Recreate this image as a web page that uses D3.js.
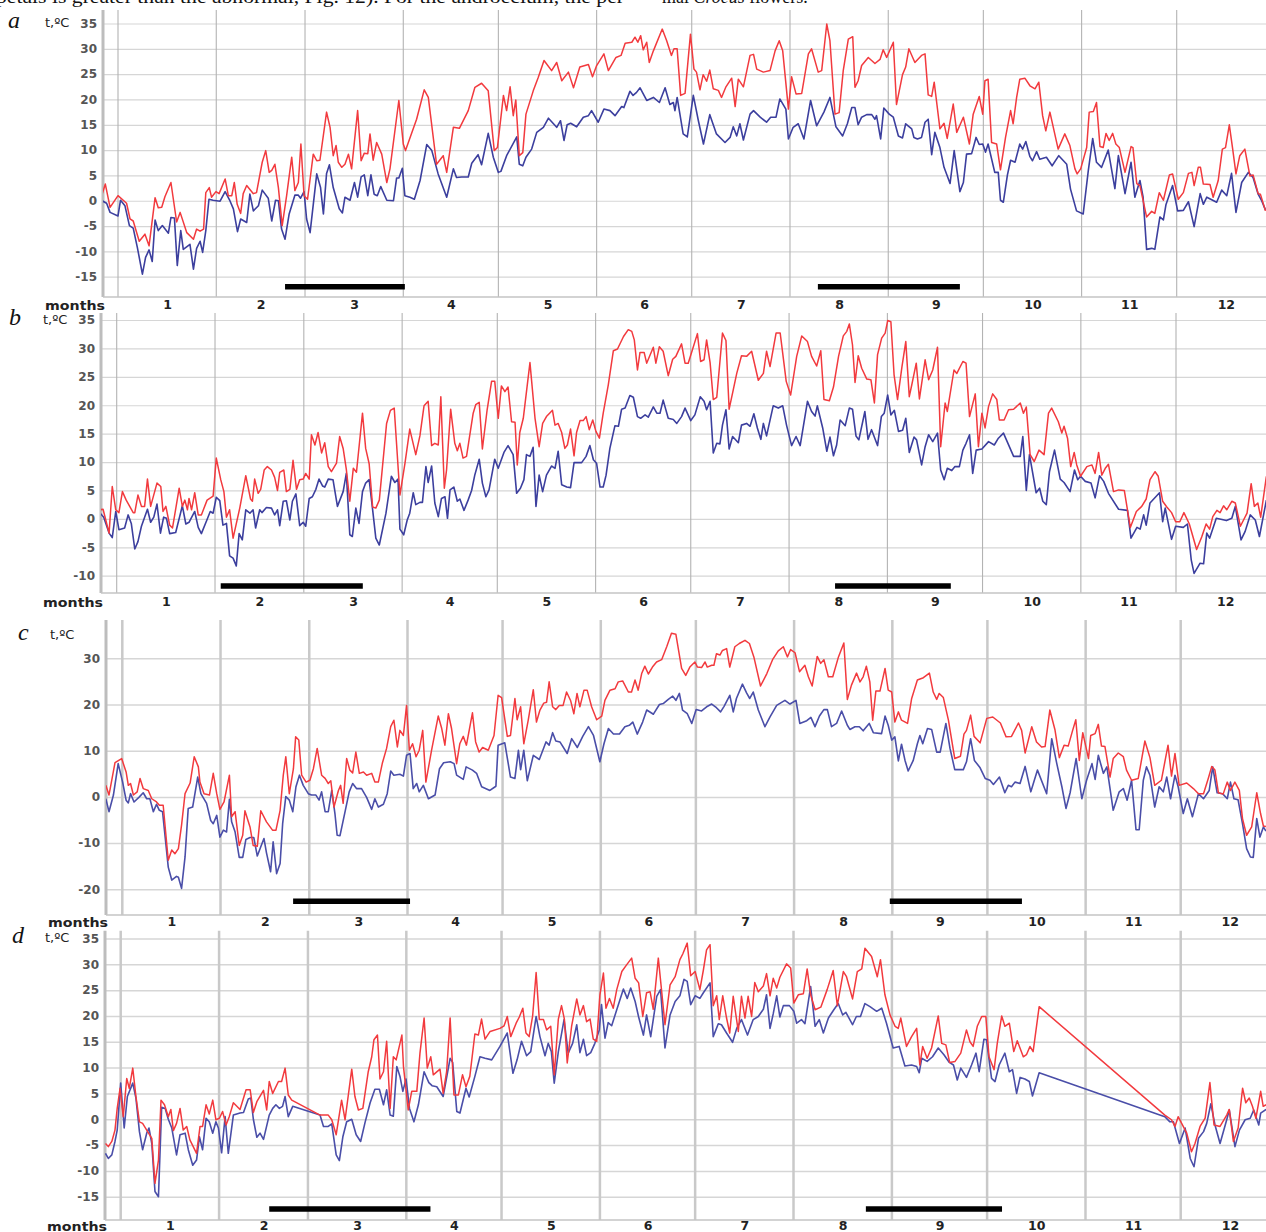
<!DOCTYPE html>
<html>
<head>
<meta charset="utf-8">
<script src="https://cdn.jsdelivr.net/npm/d3@7"></script>
<style>
  body { margin: 0; background: #fff; }
  svg { display: block; }
</style>
</head>
<body>
<svg id="chart" width="1266" height="1232"></svg>
<script>
// months and their first day (day 0 = 1 January)
const months = ['1', '2', '3', '4', '5', '6', '7', '8', '9', '10', '11', '12'];
const monthStarts = [0, 31, 59, 90, 120, 151, 181, 212, 243, 273, 304, 334, 365];

const aTicks = [-15, -10, -5, 0, 5, 10, 15, 20, 25, 30, 35];
const bTicks = [-10, -5, 0, 5, 10, 15, 20, 25, 30, 35];
const cTicks = [-20, -10, 0, 10, 20, 30];
const dTicks = [-15, -10, -5, 0, 5, 10, 15, 20, 25, 30, 35];

// black bars: [first day, last day]
const aBars = [[52.7, 90.5], [220.8, 265.6]];
const bBars = [[32.8, 77.6], [226.5, 263]];
const cBars = [[53.9, 90.8], [242.2, 283.9]];
const dBars = [[46.8, 97.6], [234.8, 277.7]];

// [day, t °C]; Max = red, Min = blue
const aMax = [[-5,1.3],[-4,3.3],[-2.5,-1.3],[0,1],[2.7,-0.5],[3.8,-3.6],[4.8,-4],[6.7,-8],[8.5,-6.6],[9.8,-8.9],[11.7,0.6],[12.7,-1.4],[13.8,-1.3],[14.8,0.8],[16.7,3.6],[18.5,-4.2],[19.6,-2.3],[21.7,-6.3],[23.8,-7.6],[24.8,-5.6],[25.9,-6],[27,-5.6],[27.7,1.6],[28.8,2.6],[29.5,0.7],[30.9,1.8],[31.9,1.4],[33.8,4.3],[34.8,1],[35.9,1],[36.7,3.6],[37.6,-0.7],[38.7,-2.5],[39.5,1.4],[40.6,3],[42.7,1.4],[43.7,1.6],[45.5,7.6],[46.6,9.9],[47.7,5.6],[48.5,6],[49.5,7.2],[50.6,2.6],[51.8,-4.9],[53.2,1],[54.8,8.6],[55.8,2],[56.9,3.6],[57.7,11.2],[58.7,1],[59.8,0.3],[61.6,9.2],[62.7,7.9],[63.7,8],[65.8,17.5],[66.9,14.5],[67.9,8.9],[68.8,10.9],[69.5,7.6],[70.6,6.6],[71.6,7.2],[72.7,9.2],[73.7,6.3],[75.6,17.8],[76.7,7.9],[77.7,9.4],[78.8,9.3],[79.5,13.2],[80.5,8],[81.6,11.5],[83.2,9.2],[84.8,3.6],[85.8,6.3],[88.6,19.8],[90,11.2],[90.7,9.9],
  [94.2,16.1],[96.6,21.9],[97.9,20.4],[100.5,7.2],[102.6,8.9],[103.7,5.6],[105.8,14.5],[107.7,14.3],[110.5,17.8],[112.6,22.4],[114.7,23.2],[116.8,21.7],[118.7,9.9],[119.7,10.5],[121.6,20.8],[122.6,17.8],[123.7,22.5],[124.7,16.8],[125.5,19.9],[126.6,8.9],[127.7,9.5],[128.7,17.1],[131,21.7],[132.6,24.4],[134.4,27.7],[136.8,25.7],[138.4,27.3],[140,23.7],[142.1,25.4],[143.7,22.3],[145.7,26.4],[148.4,26.9],[149.7,24.5],[151,26.7],[153.3,29],[154.7,25.7],[157.1,28.3],[158.7,28.7],[160,31.1],[162.1,31.3],[163.1,32.3],[164,31.3],[164.9,32.6],[165.7,29.8],[166.8,31.3],[167.6,27.3],[168.9,29.6],[171.7,33.9],[173.1,31.6],[174.6,28.7],[175.4,30],[176.4,30],[177.5,20.8],[178.9,21.2],[180.6,32.9],[181.7,26],[182.5,25.4],[183.6,21.9],[184.6,24.9],[185.7,23.6],[186.7,25.8],[187.8,22.1],[189.4,21.8],[190.4,20.4],[191.8,22.5],[193.6,24.2],[194.7,18.6],[195.7,24],[197.3,22.5],[199.4,28.7],[200.5,28.9],[201.5,26],[203.6,25.4],[205.7,25.7],[207.3,29.6],[208.6,31.6],[209.7,29.6],[211.5,18.1],[212.5,24.5],[213.9,21.1],[215.7,21.2],[217.8,29],[218.8,30],[220.9,25.4],[222,25.7],[223.6,34.9],[224.6,31.6],[226.2,17.1],[227.5,17.4],
  [228.8,25.7],[230.4,31.9],[231.8,32.4],[232.5,22.4],[233.5,23.7],[234.6,26.7],[236.7,28.3],[238.8,27.1],[240.4,27.9],[241.4,29.8],[242.5,28.3],[244.6,31.3],[245.6,19],[247.5,24.9],[248.5,26.4],[249.5,30],[251.4,27.3],[253.5,28.7],[254.6,29],[255.6,20.9],[256.7,20.6],[257.5,23.4],[259.3,14.2],[260.6,15.3],[261.6,12.3],[263.5,19.1],[264.6,13.5],[266.7,16.5],[268.6,11.2],[269.8,17.1],[271.7,20.6],[272.8,17.1],[273.5,23.7],[274.5,24],[275.6,11.5],[277.2,11.2],[278.4,6.1],[280,12.5],[281.6,17.8],[282.4,15.2],[283.5,20.4],[284.5,24],[286.1,24.2],[287.7,22.7],[289.3,22.1],[290.5,23.4],[291.7,16.8],[292.7,13.8],[294,17.5],[296.6,10.2],[298.7,13.2],[300.3,10.9],[301.9,6.3],[302.6,5.3],[303.7,6.3],[305.6,10.5],[306.4,17.5],[307.7,17.6],[308.7,19.4],[309.8,10.7],[310.8,10.5],[311.7,13.3],[312.7,11.9],[313.8,13.3],[314.8,11.2],[315.9,10.5],[317.7,5.6],[319.6,10.7],[320.2,10.5],[321.4,3.4],[322.4,3],[324.5,-3.2],[326.1,-2.1],[327.1,-2.5],[328.5,1.6],[329.8,0.1],[331.7,5.1],[332.7,5.3],[334.5,0.3],[336.1,1.6],[337.7,5.4],[338.8,5.6],[339.5,3],[340.8,6.6],[341.5,6.6],[342.4,3.3],[344.5,3.2],[345.5,0.7],[347.1,4],[348.4,10.2],[349.4,10.5],[350.6,15],[351.6,10.5],[352.7,5.3],[353.9,8.9],[355.5,10.2],[357.1,4.9],[358.1,5.1],[359.7,1.4],[360.4,1.3],[362,-2]];

const aMin = [[-5,0],[-3.6,-0.5],[-2.5,-2.3],[0,-3],[0.8,0.1],[2.2,-1],[3.6,-4.9],[4.8,-5.4],[6.1,-9.2],[7.7,-14.5],[8.7,-11.2],[9.8,-9.7],[10.8,-12],[11.7,-3.8],[12.7,-5.9],[14,-4.9],[15.9,-6.4],[16.7,-3.3],[17.8,-3.4],[18.7,-12.8],[19.8,-5.9],[20.6,-9.6],[22.7,-8.6],[23.8,-13.5],[24.8,-9.4],[25.9,-8],[26.7,-10.2],[27.7,-5.9],[28.7,0.3],[30,0.1],[32.2,-0.1],[33.8,1.8],[35.3,0],[36.4,-1.6],[37.7,-6.1],[38.7,-3.6],[40.6,-4.3],[41.6,1.3],[42.7,-2],[44.3,-1],[45.5,2.1],[47.4,0.5],[48.5,-4],[49.7,0.1],[50.6,0],[51.6,-5.6],[52.7,-7.6],[54,-2.6],[55.8,1.1],[56.9,1.1],[57.6,0.5],[58.7,1.8],[59.5,-3.6],[60.6,-6.3],[62.7,5.3],[63.9,2.6],[64.8,-2.6],[65.8,5.4],[66.7,7.1],[67.9,2.6],[69.8,-1.6],[70.8,-2.4],[71.6,0.7],[73.2,0.1],[74.6,3.6],[75.6,0.7],[76.7,4.7],[77.7,5.1],[78.8,1],[79.8,5.1],[80.8,1.3],[81.8,1],[82.9,2.8],[84.8,0.1],[86.9,0],[87.9,4.5],[88.6,4.5],[89.7,6.4],[90.5,1],[92.1,0.7],[93.5,0.3],
  [95.3,4],[97.4,11.1],[99,9.9],[101,5.3],[103.7,0.7],[105.8,6.3],[106.8,4.6],[108.4,4.7],[110.5,4.7],[111.6,7.4],[113.6,9.1],[114.7,7.1],[116.8,13.3],[118.4,8.6],[120,5.6],[120.8,5.8],[122.6,8.9],[125.8,12.6],[126.6,7.2],[127.7,6.9],[128.7,8.6],[130.5,10.2],[132.1,13.5],[134.2,14.5],[135.8,16.3],[138.4,14.5],[139.6,15.8],[140.7,11.9],[141.7,15],[142.8,15.3],[144.7,14.6],[146.8,16.5],[148.4,16.8],[149.4,17.8],[151.5,15.5],[153.3,18.1],[155.2,17.8],[156.8,16.8],[158.9,18.6],[159.6,18.4],[161.5,21.6],[162.5,20.8],[163.6,21.4],[164.7,22.3],[166.8,19.8],[168.9,20.4],[170.8,19.4],[172.6,22.3],[174.1,19],[175.2,19.4],[175.7,17.8],[176.4,20.4],[178.3,13.2],[179.6,12.6],[181.5,20.8],[183.1,15.8],[184.7,11.2],[186.7,17],[188.8,13.2],[191.5,11.5],[193.1,12.5],[194.1,14.6],[195.2,12.8],[196.2,15.2],[197.3,12],[199.4,17.1],[200.5,17.8],[202.6,16.5],[204.6,15.5],[205.9,16.5],[207.6,16.5],[208.8,20.1],[210.7,18.1],[211.5,12.2],[213,14.5],[214.6,15.2],[216.4,12.2],[218.5,19.8],[220.4,14.8],[222.7,17.5],[224.6,20.4],[226.5,14.6],
  [228.6,12.8],[230.1,15.2],[231.5,18.4],[232.5,18.4],[233.5,15],[234.6,16.5],[236.2,17],[237.8,17],[238.8,16.1],[239.3,16.8],[240.6,12.2],[241.6,18.3],[243.3,17.1],[244.6,16.5],[246.2,12.8],[247.5,12.4],[248.5,15.2],[250.4,14.2],[251.1,12.5],[252.2,12.2],[253.5,12.5],[254.6,15.5],[255.6,16.1],[256.7,9.1],[257.7,13.5],[259.3,10.5],[260.6,6.6],[262.5,3.4],[263.8,9.9],[265.6,1.8],[266.7,3.6],[267.7,9.2],[269.3,9.3],[270.7,12.5],[271.7,11.1],[272.8,11.2],[273.7,9.6],[274.5,11.2],[276.6,5.6],[277.7,5.6],[278.4,0.1],[279.3,-0.3],[280.6,5.1],[281.6,8],[283,7.6],[284.5,11.2],[285.4,10.2],[286.4,11.7],[287.7,8.7],[288.5,7.9],[289.8,9.7],[290.8,8.2],[292.9,8.6],[294.7,6.9],[296.8,8.9],[299.3,7.2],[300.5,2.3],[302.4,-2],[304.5,-2.6],[306.1,5.9],[307.5,12.3],[308.7,7.6],[310.3,6.6],[312.4,10],[314.5,2.4],[315.6,8.9],[317.7,1.4],[319.6,7.6],[320.8,0.7],[322.4,4],[323.4,0.7],[324.5,-9.6],[326.1,-9.4],[327.1,-9.6],[328.7,-3.2],[329.8,-3.8],[330.6,-0.8],[332.7,3],[334.3,-2],[336.1,-1.9],[337.7,-0.2],[339.5,-5.1],[341.4,1.4],[342.4,-0.7],[343.5,0.7],[346.6,-0.3],[348.2,2.1],[349.8,1],[351.3,5.4],[352.7,-2.3],[354.5,3.6],[356.6,5.6],[358.1,4.6],[359.7,1.3],[360.8,0],[362,-1.8]];

const bMax = [[-5.2,1.6],[-4.3,1.7],[-2.4,-2.5],[-1.4,5.7],[-0.3,1.6],[0.7,1.1],[1.8,4.8],[3,3.3],[5.2,1.1],[5.7,1.1],[6.7,4.2],[7.8,2.2],[8.8,2.2],[9.7,7],[10.7,2.2],[12.7,6.3],[13.9,5.7],[14.6,1.3],[15.5,2.2],[16.7,-1.1],[17.6,-1.6],[19.7,5.4],[20.7,2.2],[21.5,3.3],[22.3,1.6],[22.8,3.6],[23.6,1.6],[24.6,4.6],[25.7,0.7],[26.7,0.7],[28.5,3.3],[30.4,4],[31.4,10.7],[32.8,6.9],[33.8,4.8],[34.6,0.3],[35.6,1.6],[36.7,-3.4],[38.8,1.9],[40.7,7.6],[42.2,3.5],[42.8,3.1],[43.5,7],[44.6,4.5],[45.4,5.2],[46.5,8.6],[47.5,9.2],[48.8,8.6],[49.8,7.3],[50.7,5],[51.4,8.2],[52.7,8.6],[53.5,4.8],[54.6,5.2],[55.6,10.3],[56.7,5.2],[57.7,6.9],[58.8,7],[59.6,8],[60.7,7],[61.4,14.8],[62.5,13],[63.5,15.2],[64.6,11.6],[65.6,13.4],[66.7,9.2],[67.7,8.3],[69.3,9.8],[70.3,14.5],[71.4,12.4],[72.4,8.7],[73.5,3.1],[74.6,8.9],[75.6,8.2],[77.5,18.6],[78.5,12.4],[79.6,9.7],[80.7,2.1],[81.7,1.9],[82.8,3.3],[85.1,16.8],[86.3,19.1],[87.5,19.5],[89.3,4.2],
  [90.9,9.8],[92.4,15.8],[94.3,11.3],[95.6,14.6],[96.9,19.9],[98.2,20.7],[99.3,12.9],[100.3,13.3],[101.4,13],[102.2,21.5],[103.3,5.4],[104,8.6],[105.3,19.3],[106.6,13.3],[107.4,12],[108.2,13.3],[109.2,10.7],[110.3,11],[112.4,18.6],[113.2,20.1],[114.3,20.5],[115.3,12.3],[116.8,19.2],[118.2,24.2],[119.2,24.2],[120.3,17.7],[121.3,23.4],[122.4,22.4],[123.4,23.2],[124.5,17.1],[125.6,17],[126.3,9.5],[127.1,15.2],[128.2,17.7],[130.3,27.5],[131.9,17.7],[133.2,12.7],[134.3,16.8],[135.5,18],[137.4,19.1],[138.2,16.5],[139.2,16.8],[140.3,15.2],[141.3,12.4],[142.1,13],[143.1,15.8],[144.2,11.1],[145,15.2],[146.1,17.3],[147.1,17.3],[148,18],[149,15.7],[150.1,17.4],[151.1,15.4],[152.2,14.2],[153.4,18.6],[155,23.6],[156.6,29.6],[157.9,29.9],[159.8,32.1],[161.3,33.3],[162.4,33],[163.2,31.5],[164.2,26.2],[165,29.3],[166.3,29.3],[167.1,27.4],[169.2,30.2],[170,27.4],[171.1,30.3],[172.3,29.5],[173.9,25.2],[175.3,28.1],[176.3,28.6],[178.1,30.8],[179.2,27.4],[180.2,27.4],[181.6,29.9],[183.1,32.6],[184.1,27.7],[185.2,28],[186,31.5],[187.1,27.5],[188.1,21],[189.2,21.4],[191,32.7],[192.1,31.4],[193.1,19.3],[194.4,22.7],[195.5,25.6],[197,28.7],[198.6,28.6],[200.2,29.5],[202.3,24.4],[203.9,25.6],[204.9,29.5],[206,26.8],[207.9,32.7],[209.2,32.7],[211.1,24.2],[212.5,21.8],[214.4,28.6],[216,32.2],[217.8,31.2],[219.1,28.6],[220.7,26.9],[222,29.6],[223,21],[224.7,20.8],[226,23.2],[227.6,28.6],
  [229.1,32.2],[230.2,33],[231,34.3],[232,30.6],[232.8,24],[233.8,28.7],[234.9,26.5],[236.5,24.6],[237.8,24.5],[238.9,20.4],[239.9,28.9],[241.2,31.8],[242.3,32.7],[243.1,34.9],[244.1,34.7],[245.1,25.4],[246.2,21],[247.6,26.8],[248.8,31.2],[249.9,21.5],[250.7,23.6],[252.1,27.4],[253.1,21.1],[254.9,28],[256,24.5],[257.3,26.2],[258.8,30.2],[259.8,12.7],[261.2,20.4],[261.9,18.9],[264,26.2],[264.9,25.6],[266.8,27.7],[267.8,27.4],[268.9,18],[270.7,22],[271.7,12.7],[272.8,18.6],[273.8,16],[274.9,19.8],[276.2,22],[277.5,21],[278.3,17.4],[279.8,17.4],[281.2,19.2],[282.8,19.3],[284.9,20.4],[285.9,18.6],[286.8,19.7],[288,11.3],[289.3,10.1],[290.8,12.1],[292.4,11.3],[293.8,18.6],[294.8,19.5],[296.9,17.1],[298,15.1],[298.7,16.3],[299.8,14.2],[300.8,9.2],[301.9,11.7],[302.7,9.5],[303.9,7.5],[305.9,9.2],[307.5,9.5],[308.5,8],[309.6,11.7],[310.6,7.7],[311.7,8.9],[312.7,9.6],[314.3,4.8],[315.9,5.1],[317.7,5],[319.6,-1.5],[321.5,1.3],[323.2,2.2],[324.6,3.5],[325.8,6.9],[327.4,8.3],[328.4,7.5],[329.8,3.1],[331.1,2.1],[332.6,1.1],[333.9,-0.5],[335.2,-0.5],[336.5,1.1],[338.2,-0.9],[340.5,-5.4],[342.1,-3.2],[343.5,-0.9],[344.6,-1.8],[345.6,0.4],[346.9,1.5],[347.9,1.1],[349,2.3],[350,1.6],[351.6,3.1],[352.7,2.8],[354.3,-1.3],[356.4,1],[357.7,6.2],[358.7,2.2],[359.8,2.8],[360.7,0.3],[362.5,7.5]];

const bMin = [[-5.2,1],[-4.1,0.3],[-2.4,-2.5],[-1.4,-3.3],[-0.3,1.3],[0.7,-1.9],[2.5,-1.6],[3.6,0.7],[4.6,-0.8],[5.7,-5.3],[6.7,-4],[7.8,-1.3],[9.7,1.7],[10.7,-0.6],[11.7,0.3],[12.7,2.6],[13.8,-2.5],[14.8,0.3],[15.7,0.1],[16.7,-2.6],[18.6,-2.4],[20.7,2.3],[21.8,-0.9],[22.8,-0.6],[24.6,1.3],[25.7,-1.5],[26.7,-2.6],[28.5,-0.1],[29.5,1.3],[30.4,1],[31.4,3.8],[32.5,3.2],[33.5,-1.1],[34.6,-0.8],[35.6,-6.5],[36.7,-6.9],[37.7,-8.3],[38.6,-2.6],[39.6,-3.7],[40.7,1.6],[42,1],[43,1.6],[43.8,-1.6],[45.1,1.6],[45.8,1.1],[47.2,2],[48.8,1.9],[49.8,0.7],[50.7,1.6],[51.4,-1.2],[52.5,3.1],[53.5,3.2],[54.6,-0.2],[55.4,3.1],[56.5,4.4],[57.7,-1.2],[58.8,-0.6],[59.6,-1.3],[60.7,3.6],[61.7,3.9],[62.8,5.2],[63.8,7],[64.9,5.8],[65.6,5.6],[66.7,7],[68.2,6.9],[69.6,2.2],[71.4,4.8],[72.4,8],[73.5,-2.8],[74.3,-3.1],[75.4,1.9],[76.4,-0.8],[77.5,4.8],[78.5,6.3],[79.6,6.9],[80.7,1.6],[81.7,-3.4],[82.8,-4.6],[84.9,1],[86.6,7.5],[87.7,6.4],[88.7,7],[89.3,-1.8],
  [90.5,-2.8],[91.6,-0.2],[92.4,1],[93.5,4.6],[94.3,2.5],[95.6,2.9],[96.4,2.9],[97.5,9.2],[98.2,6.4],[99.3,9.3],[100.3,2.8],[101.4,0.4],[102.4,3.6],[103.5,3.9],[104.3,0.1],[105.1,5.1],[106.3,5.6],[107.4,3.1],[108.2,3.5],[109.5,1.5],[110.8,3.3],[111.9,5],[112.9,7.7],[114.3,10.5],[115.3,6.3],[116.4,3.9],[117.4,5.1],[119.2,10.5],[120.3,8.9],[122.1,11.7],[123.4,12.9],[125,11.3],[126.1,4.5],[127.3,5.4],[128.4,6.9],[129.2,11.3],[130.3,11],[131.3,12.6],[132.2,2.2],[133.2,7.7],[134.3,4.8],[135.5,7.7],[137.1,9.3],[138.2,8.9],[139.2,11.9],[140.3,6],[141.9,5.6],[143.1,5.5],[144.2,9.9],[145.6,9.9],[146.6,9.9],[148,11],[149.2,12.9],[150.3,10.4],[151.3,9.8],[152.4,5.6],[153.4,5.6],[154.3,7.7],[155.5,12.4],[157.1,16.4],[158.2,16.3],[159.2,19.3],[160.3,19.5],[161.8,21.7],[162.9,21.4],[164.2,18],[165.2,17.7],[166.6,18.3],[167.6,17.9],[169.2,19.7],[170.3,18.6],[171.3,18.6],[172.3,20.9],[173.9,17.7],[175.5,17.5],[176.6,16.8],[178.1,18],[179.2,19.5],[181,17.3],[182.3,18.3],[184,21.5],[185.2,20.7],[186,19.2],[187.1,20.7],[188.1,11.6],[189.2,13.3],[190.2,13.2],[191,16.5],[192.1,19.2],[193.1,12.3],[194.2,14.5],[196,13.4],[197,16.5],[198.6,16.8],[199.7,16.3],[200.9,18.5],[202,16],[203.1,14],[203.9,16.8],[204.9,14.6],[207,19.9],[208.6,19.5],[210,19.9],[211.2,16.5],[212.8,12.9],[214.2,14.5],[215.5,12.9],[217.8,20.7],[219.1,18.9],[220.2,18.1],[220.9,19.9],[222.6,16],[223.9,11.9],[224.9,14.4],[226,11.1],[227,13],
  [228.1,17.4],[229.7,16.4],[231,19.5],[232,19.3],[233.1,14.6],[234,13.9],[235.9,18.9],[236.9,14],[238,15.7],[239.9,12.9],[241.1,18],[242,18.6],[243.1,21.8],[244.1,18.3],[245.2,19.1],[246.5,15.4],[247.8,15.6],[248.8,17.7],[249.9,11.7],[251.4,14.4],[252.2,13.9],[253.8,9.5],[254.9,12.7],[256,14.8],[257.3,13.6],[258.8,15.1],[259.8,8.6],[260.9,6.9],[261.9,8.9],[263.3,8.5],[264.3,9.2],[265.7,9.2],[266.8,12.1],[267.8,13.3],[268.9,14.8],[269.9,8],[271,12.1],[272.8,12.3],[274.9,13.6],[276.7,13],[278,14.2],[279.6,15.1],[282.8,11],[284.9,11],[285.7,14.5],[286.8,5],[287.8,11.3],[289.9,4.6],[291,5.4],[292,3.1],[293.1,2.5],[294.1,8.3],[295.7,12.1],[297.5,7],[298.7,6.4],[300.6,4.8],[302,8.6],[303,6.9],[303.9,7.5],[305.4,6.6],[307.2,6.3],[308.5,3.7],[309.9,7.6],[311.2,6.6],[312.7,4.5],[315.9,1.7],[318.7,1.5],[319.8,-3.4],[321.7,-1.5],[322.7,-1.8],[323.8,0.7],[324.6,-1.1],[325.8,2.8],[328.8,4.6],[329.8,-0.5],[330.6,1.9],[332.6,-3.6],[333.9,-1.3],[336.3,-1.5],[337.6,-0.9],[338.8,-7.2],[339.7,-9.6],[341.6,-7.8],[342.7,-7.9],[343.7,-2.5],[344.6,-3.4],[346.7,0.1],[348.5,-0.1],[349.9,-0.3],[351.6,0.1],[352.7,2.2],[354.5,-3.7],[355.8,-2.2],[357.4,0.7],[359,-0.2],[360.3,-3.1],[362.5,3.3]];

const cMax = [[-5.2,2.5],[-4.2,0.4],[-2.3,7.4],[-0.2,8.3],[1.2,5.4],[1.9,2.5],[2.6,2.9],[3.5,0.4],[4.7,1.1],[5.6,4],[6.6,1.8],[8.2,1.4],[9.3,-0.4],[10.8,-1.1],[11.7,-1.8],[12.9,-1.8],[14.5,-13.7],[15.6,-11.5],[16.6,-12.3],[17.7,-11.2],[18.7,-6.1],[19.8,0.7],[21.4,3],[22.7,8.7],[24,6.5],[24.5,3.2],[25.8,0.7],[27.5,0.4],[28.7,5.1],[29.8,0.7],[30.8,-2.7],[32.1,-1.1],[33.8,4.7],[34.5,-4.3],[35.6,-3.2],[36.9,-10.5],[38,-8.3],[38.7,-3],[40.3,-6.5],[41.3,-10.5],[42.6,-10.7],[43.7,-3],[45.5,-5.4],[47.4,-7.2],[48.5,-7.2],[49.8,-2.9],[50.8,4.7],[51.6,8.7],[52.7,0.7],[54,6.1],[54.7,13],[55.7,12.3],[56.6,4.7],[58,3.2],[59.2,3.6],[60.3,6.1],[61.5,10.5],[62.9,4.7],[64,4],[65,2.9],[65.8,3.5],[66.8,-2.2],[68.2,1.4],[68.9,2.5],[69.7,-1.4],[70.8,8.3],[71.8,5.8],[72.7,5.2],[73.7,9.7],[74.8,5.1],[76.1,5.4],[77.1,4.7],[78.7,5.1],[79.7,3.2],[80.8,3.2],[82.1,7.4],[83.4,10.5],[84.7,15.2],[85.7,16.6],[86.8,10.8],[87.6,14.4],[88.7,13.3],[89.7,19.8],
  [90.6,10.1],[91.6,11.5],[92.7,8.7],[93.7,10.1],[94.8,14.4],[95.8,3.2],[97.6,10.1],[99.7,17.5],[100.8,14.8],[101.8,11.2],[102.9,18],[103.9,14.8],[105.5,7.2],[106.5,11.5],[107.6,13.1],[108.6,11.2],[110.5,18.2],[111.5,11.9],[112.6,9.7],[113.7,10.7],[115.5,10.1],[117.3,13.3],[118.6,22],[119.7,21.5],[121.5,13.1],[122.5,13.3],[123.9,21.3],[124.6,16.7],[125.7,19.5],[126.7,11.5],[128.1,16.6],[129.7,23.2],[130.7,16.2],[131.8,18.8],[133,20.3],[133.9,20.5],[134.7,24.9],[135.8,19.5],[136.8,18.9],[137.9,19.8],[139.1,19.8],[140.2,22.7],[141.5,20.8],[142.5,18],[143.5,22.4],[144.4,19.5],[145.7,23.1],[146.7,23.1],[148.1,19.5],[149.7,16.7],[151.3,17.5],[152.3,20.9],[153.9,23.1],[155.5,23.4],[156.5,24.9],[157.9,25.1],[159.7,22.7],[160.7,22.7],[161.8,25.3],[162.8,23.1],[163.9,26.7],[164.9,28.3],[166,26.6],[167.3,28.1],[168.6,29.2],[170.2,29.7],[171.8,32.5],[173.3,35.4],[174.7,35.2],[176.5,27.8],[177.8,26.3],[179.1,28.1],[180.7,29.2],[181.5,28.1],[182.8,28],[183.9,29.2],[184.6,28.1],[186,28.5],[186.7,28.5],[187.5,31],[188.6,30.7],[189.4,31.7],[190.7,32.1],[191.7,28.1],[193.3,32.5],[194.7,33.2],[196.5,33.9],[197.9,33.2],[199.3,30.3],[201.4,24],[203.4,26.7],[205.2,29.7],[207,31.6],[208.6,32.5],[209.9,30.3],[210.9,31.9],[212.3,31.2],[213.7,27.1],[215.4,28.5],[216.5,26],[217.7,24],[219.3,30.4],[220.4,28.9],[221.4,29.7],[222.8,26],[224.2,26],[226,30.3],
  [227.7,33.3],[228.8,21.1],[230.1,24.2],[231.7,26.8],[232.8,24.9],[233.8,26],[234.8,28.3],[235.9,24.9],[236.8,16.6],[237.8,22.9],[239.1,22.9],[240.7,27.8],[241.7,23.1],[242.8,22.7],[243.8,16.2],[244.9,18.4],[245.9,16.6],[247.8,15.9],[249.1,21.3],[250.9,25.3],[252.8,25.8],[254.7,26.8],[255.9,22.7],[257,21.1],[257.8,22.4],[259.1,21.5],[260.7,16.6],[262.7,8.3],[264.5,8.8],[265.6,13.6],[266.4,14.4],[267.7,17.7],[268.8,13.1],[270.7,11.7],[272.8,17],[274.7,17.3],[277.1,16],[278.9,13],[280.6,13.1],[282.8,16],[283.8,14.4],[284.9,9.5],[287,15.2],[288.5,11.9],[290.1,10.8],[291.2,10.9],[292.7,18.8],[294.3,14.6],[295.7,8.5],[297.2,11.2],[298.5,11],[299.9,14.4],[300.9,16.7],[302,7.9],[303.1,13.9],[304.9,8.3],[305.6,13.3],[307,13.7],[308,15.7],[309,11],[310.1,10.9],[311.7,4.3],[312.7,8.3],[314.3,9.5],[315.9,8.7],[316.9,5.8],[318.5,3.6],[320.6,4],[322.7,12.1],[324.3,8.5],[325.8,2.5],[327.9,3.6],[330,11.2],[331.1,4.5],[332.2,9.4],[333.5,2.5],[335.9,3],[338,1.8],[339.6,0.7],[341.2,0.7],[342.7,4],[343.8,6.6],[344.8,5.8],[345.9,0.9],[347.4,0.6],[348.7,3.2],[349.7,1.4],[351.1,3.2],[352.5,1.4],[353.5,-4.7],[354.8,-8.3],[356.4,-6.5],[358,0.9],[359.2,-3.6],[360.1,-6.3],[360.9,-6.4]];

const cMin = [[-5.2,-0.4],[-4.2,-3.2],[-2.8,0.4],[-1.3,7.2],[0.1,3.2],[1.2,-0.7],[1.9,-1.3],[2.6,0.7],[3.7,-1.1],[5.4,0],[6.6,0.9],[7.7,-0.4],[8.7,-0.4],[9.8,-3.2],[10.8,-1.6],[11.7,-2.9],[12.7,-3.2],[14.5,-15.2],[15.6,-18],[17.1,-17.2],[17.7,-17.4],[18.7,-19.8],[19.8,-13],[20.8,-2.5],[22.2,-2.2],[23.8,4.3],[24.8,0.7],[26.6,-1.4],[27.9,-5.1],[28.7,-5.8],[29.8,-4],[30.8,-8.7],[31.9,-7.2],[32.9,-7.6],[33.8,-0.5],[34.5,-5.4],[35.6,-7.6],[36.9,-13.1],[38,-13.1],[39,-9.2],[40.3,-8.8],[41.5,-8.8],[42.6,-12.8],[43.7,-10.8],[44.7,-9],[45.5,-12.1],[46.8,-16.2],[47.6,-9.7],[48.7,-16.6],[49.8,-14.4],[50.6,-5.8],[51.6,0.1],[52.7,-0.7],[53.8,-3.2],[54.8,2.2],[55.9,4.7],[57.1,2.5],[58.7,0.7],[59.7,0.4],[61.1,0.4],[62.1,-0.7],[62.9,1.1],[64,-3.2],[65,-3.2],[66.1,1.4],[67.1,-3.6],[67.8,-8.3],[68.7,-8.4],[70.3,-3.2],[71.6,1.1],[72.7,2.9],[73.9,1.8],[75.5,1.8],[77.1,-0.1],[78.7,-2.7],[79.7,-0.4],[80.8,-2.2],[82.4,-1.6],[83.6,0.7],[84.7,5.6],[85.7,4.7],[87.6,4.9],[88.7,4.5],[89.7,9],[90.8,9.4],[91.8,1.8],[92.9,2.9],
  [93.7,1.1],[95,2.5],[96.6,-0.4],[98.7,0.4],[100.1,6.1],[101.4,7.4],[103.5,7.6],[104.7,7.2],[105.5,4.7],[107.6,3.8],[108.5,6.5],[110.5,5.8],[111.8,5.1],[113.4,2.2],[116,1.4],[117.9,2.3],[118.6,11.2],[120.7,11.7],[122.5,4.3],[123.9,4],[125,10.1],[125.7,5.9],[126.7,10.1],[127.8,3.5],[129.7,9],[131.6,8.1],[133.7,11.9],[134.7,11.2],[135.8,13.9],[136.8,12.1],[138.1,11.9],[140.4,9.4],[141.8,12.6],[143.6,10.7],[145.3,13.1],[147.1,15.2],[148.7,13.3],[150.7,7.6],[152,11.5],[153.4,14.8],[155,13.6],[156.9,13.6],[158.6,15.2],[160,15.5],[161.1,16.2],[162.5,13.6],[164.2,16.2],[165.5,18.8],[167.6,17.9],[169.5,20],[170.7,20.2],[172.3,21.1],[173.7,21.8],[174.7,20.9],[175.8,22.4],[176.8,18.8],[178.3,18],[179.7,15.9],[181.1,18.9],[182.8,18.6],[184.4,19.5],[186,20.1],[187.5,19.3],[188.8,18.4],[189.9,19.6],[191.7,22],[192.8,18.4],[193.8,21.3],[195.7,24.4],[197,22.5],[198,21.3],[199.1,22.7],[200.7,18.8],[202.8,15.2],[204.4,17.3],[206.5,19.8],[209.1,20.9],[210.7,20.1],[212.6,20.9],[213.8,15.9],[216,16.5],[217.3,17.2],[218.6,15.2],[220,17.5],[221.4,18.9],[222.5,18.9],[223.8,15.2],[225.4,15.9],[227,18.6],
  [228.8,15.5],[229.6,14.6],[231.2,15.2],[232.6,15.2],[233.8,14.3],[235.7,15.9],[237,13.9],[239.6,13.7],[240.7,17.5],[241.7,15.5],[242.8,12.3],[243.8,13],[244.9,7.8],[245.9,11.4],[247,7.9],[248,5.6],[249.6,7.9],[250.9,11.5],[251.7,13.3],[252.6,11.5],[254.1,14.8],[255.4,14.6],[257,9.7],[258.1,9.7],[259.9,15.9],[261.2,10.5],[262.7,5.9],[265.4,5.9],[266.4,7.6],[267.7,12.6],[268.9,7.9],[270.7,6.3],[272.3,4],[273.8,3.6],[274.9,2.7],[276.8,4.3],[278.5,0.9],[279.6,2.5],[280.6,2.2],[281.7,3.2],[283.3,2.9],[284.9,6.6],[286.7,1.1],[288.8,5.8],[291.7,0.7],[293.3,12.6],[294.9,7.2],[296.5,2.2],[297.8,-2.5],[299.1,0.9],[301,8.3],[302.8,-0.4],[304.3,3.6],[306,7.2],[307,3.8],[308,9],[309.6,5.1],[310.7,6.5],[312.7,-2.9],[314.6,1.1],[315.9,1.8],[317.1,-0.7],[318.5,3.6],[319.9,-7.1],[320.9,-7.1],[322.2,3.6],[323.2,6.5],[324.3,4.7],[325.8,-2.2],[327.2,2.2],[328.5,1.1],[329.6,4.3],[330.8,-0.4],[332.2,4.7],[333.2,2.2],[334.8,-3.6],[336.1,-0.4],[337.7,-4.3],[339.6,0.7],[341.2,-0.4],[343,1.4],[344.1,6.5],[345.5,0.9],[347.2,0.7],[348.7,-0.4],[349.7,3.2],[350.8,-0.4],[352.1,-0.6],[353.5,-5.8],[354.8,-11.2],[356,-13],[356.9,-13.1],[358,-4.7],[359,-8.7],[360.1,-6.5],[360.9,-7.4]];

const dMax = [[-4.8,-4.7],[-3.9,-5.3],[-2.8,-4.3],[-1.8,-2.1],[-1.1,2.1],[-0.2,6],[0.8,0.5],[1.9,7.9],[2.7,6],[3.8,9.9],[4.8,4.4],[5.9,-0.5],[6.9,-0.8],[8.2,-2.1],[9.8,-3.7],[10.8,-12.4],[11.9,-7.9],[12.7,3.7],[13.8,2.8],[15,0.5],[15.8,1.9],[16.6,-2.2],[17.6,-0.8],[18.7,2.1],[19.7,-2.1],[20.8,-1.4],[21.8,-4],[23.9,-6.6],[25,-1.4],[25.8,-1.4],[26.9,2.8],[27.9,1],[29,3.7],[30,-0.1],[31.1,0.2],[32.1,1.5],[33.2,-1.1],[34.2,0.5],[35.5,3.2],[37.6,1.9],[39.5,5.7],[40.8,5.7],[41.8,1.3],[42.9,3.4],[45,5.6],[46,1.8],[46.8,7.3],[47.9,5],[49.7,7.3],[50.7,7.3],[51.8,9.9],[52.8,4.7],[53.9,3.7],[62.8,0.8],[65.4,0.8],[66.5,-0.1],[67.9,-3],[69.6,3.7],[70.7,-0.1],[72.8,9.7],[73.8,4.4],[74.9,1.8],[76.3,2.1],[78,9.2],[79.1,12.1],[79.8,15.4],[80.9,16.3],[81.7,7.8],[82.8,9.2],[83.8,15.1],[84.9,2.1],[85.9,12.1],[86.8,11.5],[88.6,16.3],
  [89.1,10.2],[90.6,1.8],[91.7,5.4],[93.3,5.4],[94.3,12.8],[95.6,19.6],[96.6,9.9],[97.7,12.1],[98.5,8.6],[100.6,9.7],[101.6,5],[102.7,9.2],[103.8,19.6],[105,4.7],[106.4,4.7],[107.7,8.6],[108.8,6.3],[110,8.3],[111.6,16.5],[112.7,16.3],[113.7,19.4],[114.8,15.5],[116.4,17],[119.5,17.6],[120.8,18.1],[121.8,19.9],[122.9,16],[124.6,18.6],[125.6,19.8],[126.7,21.5],[127.7,16.7],[128.7,16],[129.8,20],[130.9,28.4],[131.9,19.3],[133.2,19.3],[134.2,17.3],[135.5,18],[136.6,8.6],[137.9,19.4],[138.9,22],[139.8,19.4],[140.7,10.9],[142.1,18.1],[143.7,23.3],[144.7,20.2],[145.8,22],[146.8,18.9],[147.9,19.4],[148.9,15.5],[150,15.1],[151,24.1],[152.1,28.3],[152.9,21.5],[154,23.4],[155.2,21.5],[156.3,25.1],[157.9,28.6],[159.4,29.9],[161,31.2],[162.1,27.3],[163.2,26.4],[164.5,19.9],[165.7,24.5],[166.8,24.7],[167.8,21.3],[169.4,31.2],[170.4,25.1],[171.5,18.3],[173.1,26],[174.7,27.6],[176.2,30.9],[177.1,32],[178.5,34.1],[179.6,27.8],[181,28.6],[182.5,25.1],[183.6,28.9],[184.6,32.8],[185.7,33.8],[186.7,22],[187.8,23.9],[188.6,19.3],[189.7,23.9],[190.9,19.6],[191.9,16.7],[193,23.8],[194.6,17],[195.6,23.8],[196.7,19.6],[197.7,23.8],[198.8,19.9],[199.8,26.5],[200.9,24.7],[202.5,25.8],[203.5,28.2],[204.6,23.9],[205.6,27.3],[206.7,25.4],[207.7,27.5],[209.8,30.1],[211.1,29.3],[212.1,22.5],[213.5,24.1],[215.1,24.3],[216.3,29.1],[217.4,24.1],[218.8,21.2],[220.6,21.7],[222.6,25.1],[224.5,28.8],[225.8,22],
  [227.7,28.6],[228.7,27.6],[230.6,23.3],[232.1,28.6],[233.5,29.1],[234.5,33.1],[236.6,31.5],[238.4,27.6],[239.4,30.9],[240.8,24.1],[242.4,20.2],[244,18],[245,17.6],[245.8,19.6],[247.6,14.1],[249.2,16],[250.8,17.6],[251.8,10.5],[252.7,14.1],[254.1,11.8],[255.5,13.8],[257.6,20],[258.7,14.7],[260,14.4],[261.2,11],[262.9,11.2],[264.7,12.8],[266.5,17.3],[267.6,15],[268.6,14.1],[269.9,18],[271.3,19.9],[272.6,19.9],[273.6,12.1],[275.2,9.6],[276.2,14.7],[277.6,20],[278.6,18],[280,18.6],[281.4,13.1],[282.5,15.2],[284.4,12.1],[285.4,12.5],[286.5,14.1],[287.5,13.1],[289.4,21.8],[329,0.8],[331.1,-0.1],[332.2,-1.4],[333.2,0.5],[334.3,-0.8],[335.9,-2.7],[337.4,-6.3],[338.5,-4.7],[340.1,-1.4],[341.7,0.2],[343.2,7.1],[344.5,-1.1],[346.4,-1.4],[348.5,0.8],[349.3,1.9],[350.6,-4.3],[352.1,-1.7],[353.5,6],[354.5,3.2],[355.6,4.1],[356.6,2.5],[357.7,0.2],[359.2,5.4],[360,2.5],[360.9,2.8]];

const dMin = [[-4.8,-6.6],[-3.9,-7.6],[-2.8,-6.9],[-1.8,-4.3],[-1.1,-2.1],[0,7],[1.1,-1.7],[2.1,4.4],[3.8,7],[4.8,4.1],[5.9,-2.4],[6.9,-5.9],[8.2,-2.7],[8.9,-1.7],[9.8,-4.7],[10.8,-14],[11.9,-15],[12.9,2.3],[14,2.1],[15,0],[16.1,-1.7],[17.6,-6.9],[18.7,-3],[20.3,-2.7],[21.3,-5.9],[22.7,-8.9],[23.9,-7.9],[24.8,-3.4],[25.8,-5.9],[26.9,0.2],[27.9,-0.5],[29,-2.7],[30,-0.5],[30.8,-1.7],[31.8,-6.5],[32.9,0.5],[33.9,-6.6],[35.5,0.8],[37.6,1.2],[38.7,1.3],[40.2,3.9],[41,4.1],[41.8,0],[42.9,-3.5],[43.9,-2.7],[45,-3.9],[46.8,0.8],[47.9,2.1],[48.9,2.8],[50,2.1],[51,2.5],[51.8,4.4],[52.8,0.5],[54.2,2.5],[62.8,0.8],[63.9,-1.4],[65.4,-1.4],[66.5,-0.9],[67.9,-6.9],[68.9,-8],[70,-3.4],[71.2,-0.5],[72.8,0],[74.2,-3],[75.6,-4.3],[77,-0.6],[78.6,3.2],[80.1,5.8],[81.5,5.8],[82.8,2.8],[83.8,5.7],[84.9,0.8],[85.9,0.6],[87,10.2],[88,8.3],[88.9,5.4],[89.9,7.8],[91,2.1],[92.4,-0.5],[93.8,2.8],
  [95.6,9.2],[97.1,7.1],[98.1,6.5],[99.6,6.3],[101.6,4.4],[103.8,11.8],[104.6,11],[105.9,1.5],[106.9,1.2],[108.8,6],[109.8,4.3],[111.6,8.3],[113.2,12.1],[114.8,11.8],[116.9,11.5],[119.5,14.1],[121.8,16.7],[123.6,8.9],[124.9,11.5],[126.3,15.1],[127.9,12.3],[129.2,13.1],[130.9,19.9],[132.1,16],[133.7,12.3],[134.7,14.7],[135.7,13.1],[136.6,7],[137.9,13.1],[139.7,19.3],[141,12.8],[142.4,14.7],[143.7,18.3],[144.7,12.9],[145.8,15.5],[146.8,12.3],[148.1,12.9],[149.4,14.7],[150.8,17.3],[151.5,22.2],[152.6,15.7],[153.6,18.7],[154.7,18.1],[156.3,21.2],[158.4,25.2],[159.6,23.4],[160.7,25.4],[162.1,22.8],[163.2,19.8],[164.7,16.3],[165.7,20.2],[167,16],[168.9,23.8],[170.1,25.1],[171.5,13.8],[173.1,20.2],[174.7,22.8],[176.2,23.9],[177.5,27.1],[178.5,26.7],[179.6,22.2],[181,23.9],[182.5,23.4],[183.6,24.5],[185.7,26.4],[186.7,16],[188.3,18.5],[189.3,18.3],[190.9,16.7],[192.8,14.9],[194.1,17.6],[195.6,19.3],[197.5,16.3],[199.3,19.3],[200.9,19.9],[202.5,21.3],[203.5,24.1],[204.6,17.6],[205.6,20.4],[206.7,23.9],[207.7,19.8],[208.8,22],[210.7,22],[212.1,20.9],[213,18.6],[214.5,19.3],[215.6,18.5],[217.4,25.7],[218.8,18],[220.1,19.3],[221.4,16.7],[223,19.6],[224.7,21.2],[226.1,22.4],
  [227.5,20.2],[228.5,20.7],[230.6,18.3],[231.8,19.9],[233.1,19.9],[234.5,22.4],[236.1,21.8],[238.2,20.9],[239.8,21.5],[241.3,18.6],[243.4,13.8],[245.3,14.1],[247.1,10.3],[249.2,10.5],[250.8,10.2],[251.6,9],[252.4,11.8],[254.1,11.2],[255.8,12.1],[257.6,13.8],[259.4,12.5],[261.1,11],[262.4,10.5],[263.6,7.6],[264.7,9.9],[266.5,8.1],[268.1,10.5],[269.5,12.8],[270.5,9.2],[272,15.5],[272.8,15.4],[274.4,7.9],[275.5,7.3],[276.8,10.5],[278.6,12.8],[280,9.2],[281,9.6],[282.3,5],[283.4,8.1],[284.9,7.8],[286.3,7.3],[287.3,4.5],[289.4,9],[329,0.5],[330.6,-0.5],[331.7,-0.5],[333.6,-4.7],[335.4,-1.7],[337,-7.6],[338.2,-9.2],[339.6,-3.7],[341.2,-2.4],[342.2,-0.8],[343.5,3],[344.8,-1.1],[346.4,-4.7],[348.5,-0.1],[349.3,1.8],[351.1,-5.3],[352.5,-2.1],[354.3,-0.1],[355.9,0.2],[357,1.8],[358.6,-1.1],[359.2,1.2],[360.9,1.9]];

// layout of the four stacked panels (pixels)
const W = 1266;
const panels = [
  { id: 'a', max: aMax, min: aMin, ticks: aTicks, bars: aBars, barAt: -17,
    left: 103, top: 10, bottom: 297, xJan: 118, xDec: 1176.7, yLo: 276.7, yHi: 23.5,
    monthPad: 3.5, letterX: 8, unitX: 45, unitY: 27, wide: false },
  { id: 'b', max: bMax, min: bMin, ticks: bTicks, bars: bBars, barAt: -11.8,
    left: 101, top: 313, bottom: 593, xJan: 116.7, xDec: 1176, yLo: 575.7, yHi: 320,
    monthPad: 4.5, letterX: 9, unitX: 43, unitY: 324, wide: false },
  { id: 'c', max: cMax, min: cMin, ticks: cTicks, bars: cBars, barAt: -22.6,
    left: 106, top: 620, bottom: 915, xJan: 122.3, xDec: 1180.7, yLo: 889.3, yHi: 658.3,
    monthPad: 2.5, letterX: 18, unitX: 50, unitY: 639, wide: true },
  { id: 'd', max: dMax, min: dMin, ticks: dTicks, bars: dBars, barAt: -17.4,
    left: 105, top: 930.7, bottom: 1220, xJan: 120.7, xDec: 1180.7, yLo: 1196.7, yHi: 938.5,
    monthPad: 1.5, letterX: 12, unitX: 45, unitY: 942, wide: true }
];

const svg = d3.select('#chart');
const font = "'DejaVu Sans', Verdana, sans-serif";

// cropped running text above the figure (cut off in the original too)
const head = svg.append('text')
  .attr('y', 3)
  .attr('font-family', "'Liberation Serif', 'Times New Roman', serif")
  .attr('font-size', 18)
  .attr('fill', '#111');
head.append('tspan').attr('x', -4)
  .attr('textLength', 628).attr('lengthAdjust', 'spacingAndGlyphs')
  .text('petals is greater than the abnormal, Fig. 12). For the androecium, the per');
head.append('tspan').attr('x', 662).text('mal ');
head.append('tspan').attr('font-style', 'italic').text('Crocus');
head.append('tspan').text(' flowers.');

const monthMids = months.map((m, i) => (monthStarts[i] + monthStarts[i + 1]) / 2);

panels.forEach(p => {
  const x = d3.scaleLinear().domain([0, 334]).range([p.xJan, p.xDec]);
  const y = d3.scaleLinear()
    .domain([p.ticks[0], p.ticks[p.ticks.length - 1]])
    .range([p.yLo, p.yHi]);

  const g = svg.append('g');

  // horizontal grid + y labels
  const yAxis = g.append('g')
    .attr('transform', `translate(${p.left},0)`)
    .call(d3.axisLeft(y).tickValues(p.ticks).tickSize(-(W - p.left)).tickPadding(6)
      .tickFormat(d => String(d)));
  yAxis.select('.domain').remove();
  yAxis.selectAll('line').attr('stroke', '#d6d6d6').attr('stroke-width', p.wide ? 1.5 : 1.2);
  yAxis.selectAll('text').attr('font-family', font).attr('font-size', 12)
    .attr('font-weight', 'bold').attr('fill', '#555');

  // month separators
  g.selectAll('line.month').data(monthStarts.slice(0, 12)).join('line')
    .attr('class', 'month')
    .attr('x1', d => x(d)).attr('x2', d => x(d))
    .attr('y1', p.top).attr('y2', p.bottom)
    .attr('stroke', p.wide ? '#c9c9c9' : '#b3b3b3')
    .attr('stroke-width', p.wide ? 2.5 : 1.1);

  // left and bottom frame
  g.append('line').attr('x1', p.left).attr('x2', p.left).attr('y1', p.top).attr('y2', p.bottom)
    .attr('stroke', '#bdbdbd').attr('stroke-width', 3);
  g.append('line').attr('x1', p.left).attr('x2', W).attr('y1', p.bottom).attr('y2', p.bottom)
    .attr('stroke', '#c4c4c4').attr('stroke-width', 1.5);

  // month numbers
  const xAxis = g.append('g')
    .attr('transform', `translate(0,${p.bottom})`)
    .call(d3.axisBottom(x).tickValues(monthMids).tickSize(0).tickPadding(p.monthPad)
      .tickFormat((d, i) => months[i]));
  xAxis.select('.domain').remove();
  xAxis.selectAll('text').attr('font-family', font).attr('font-size', 12.5)
    .attr('font-weight', 'bold').attr('fill', '#222');
  g.append('text')
    .attr('x', p.left - 58).attr('y', p.bottom + p.monthPad + 9)
    .attr('font-family', font).attr('font-size', 12.5).attr('font-weight', 'bold').attr('fill', '#222')
    .attr('textLength', 60).attr('lengthAdjust', 'spacingAndGlyphs')
    .text('months');

  // panel letter and unit
  g.append('text')
    .attr('x', p.letterX).attr('y', p.unitY + 1)
    .attr('font-family', "'Liberation Serif', 'Times New Roman', serif")
    .attr('font-style', 'italic').attr('font-size', 24).attr('fill', '#111')
    .text(p.id);
  g.append('text')
    .attr('x', p.unitX).attr('y', p.unitY)
    .attr('font-family', font).attr('font-size', 13).attr('fill', '#222')
    .text('t,ºC');

  // series
  const clipId = 'clip-' + p.id;
  svg.append('clipPath').attr('id', clipId).append('rect')
    .attr('x', p.left).attr('y', p.top).attr('width', W - p.left).attr('height', p.bottom - p.top);

  const line = d3.line().x(d => x(d[0])).y(d => y(d[1]));
  const series = g.append('g').attr('clip-path', `url(#${clipId})`);
  series.append('path').datum(p.min)
    .attr('fill', 'none').attr('stroke', p.wide ? '#4a4ea8' : '#3c3f9e')
    .attr('stroke-width', 1.6).attr('stroke-linejoin', 'round').attr('d', line);
  series.append('path').datum(p.max)
    .attr('fill', 'none').attr('stroke', '#f23a3e')
    .attr('stroke-width', 1.5).attr('stroke-linejoin', 'round').attr('d', line);

  // black period bars
  g.selectAll('line.bar').data(p.bars).join('line')
    .attr('class', 'bar')
    .attr('x1', d => x(d[0])).attr('x2', d => x(d[1]))
    .attr('y1', y(p.barAt)).attr('y2', y(p.barAt))
    .attr('stroke', '#000').attr('stroke-width', 5.5);
});
</script>
</body>
</html>
